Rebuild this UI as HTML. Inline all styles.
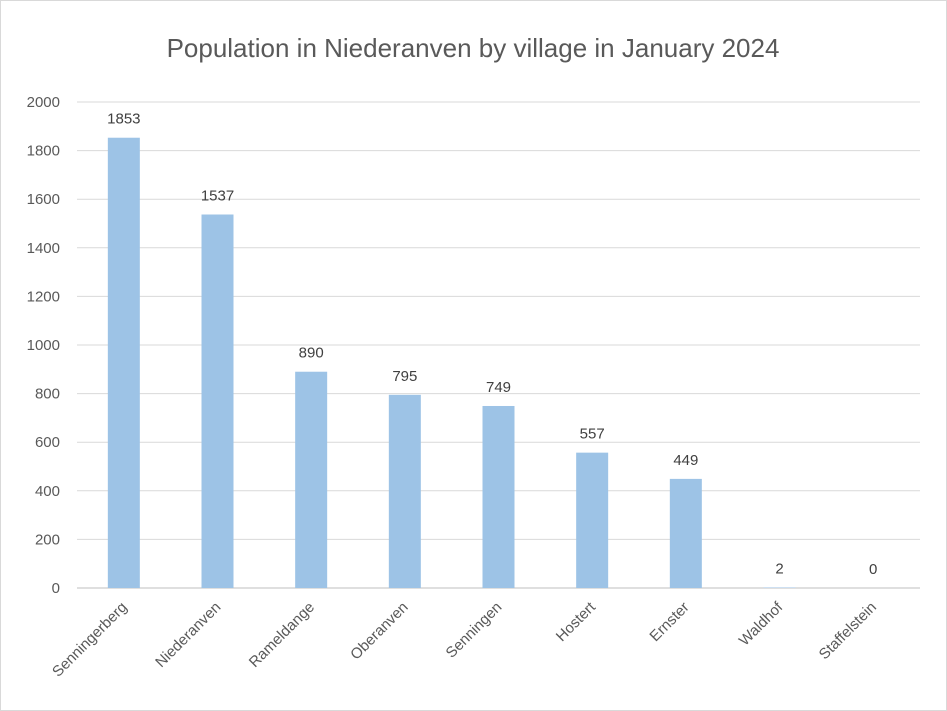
<!DOCTYPE html>
<html><head><meta charset="utf-8"><style>
body{margin:0;background:#fff;}
svg{display:block;font-family:"Liberation Sans",sans-serif;}
</style></head><body>
<svg id="chart" width="947" height="711" viewBox="0 0 947 711">
<rect x="0.5" y="0.5" width="946" height="710" fill="#fff" stroke="#d9d9d9"/>
<text x="473" y="57" text-anchor="middle" font-size="26" fill="#595959">Population in Niederanven by village in January 2024</text>
<g id="grid"></g><g id="bars"></g><g id="labels"></g>
</svg>
<script>
const categories=["Senningerberg","Niederanven","Rameldange","Oberanven","Senningen","Hostert","Ernster","Waldhof","Staffelstein"];
const values=[1853,1537,890,795,749,557,449,2,0];
const yTicks=[0,200,400,600,800,1000,1200,1400,1600,1800,2000];
const ns="http://www.w3.org/2000/svg";
const x0=77,x1=920,yBase=588,yTop=102,yMax=2000;
const band=(x1-x0)/categories.length,barW=32;
function y(v){return yBase-(v/yMax)*(yBase-yTop);}
function xc(i){return x0+band*(i+0.5);}
const grid=document.getElementById('grid'),bars=document.getElementById('bars'),labels=document.getElementById('labels');
function mk(tag,attrs,parent,text){const e=document.createElementNS(ns,tag);for(const k in attrs)e.setAttribute(k,attrs[k]);if(text!==undefined)e.textContent=text;parent.appendChild(e);return e;}
yTicks.forEach(t=>{
 const l=mk('line',{x1:x0,x2:x1,y1:y(t),y2:y(t),stroke:t===0?'#bfbfbf':'#d9d9d9','stroke-width':1},grid);
 
 
 const tx=mk('text',{x:60,y:y(t)+5,'text-anchor':'end','font-size':15,fill:'#595959'},grid,String(t));
 
 
});
categories.forEach((c,i)=>{
 const v=values[i];
 const r=mk('rect',{x:xc(i)-barW/2,y:y(v),width:barW,height:yBase-y(v),fill:'#9dc3e6'},bars);
 
 
 const vl=mk('text',{x:xc(i),y:y(v)-14,'text-anchor':'middle','font-size':15,fill:'#404040'},labels,String(v));
 
 
 const cl=mk('text',{x:0,y:0,'text-anchor':'end','font-size':15,fill:'#595959',transform:`translate(${xc(i)+4},${yBase+20}) rotate(-45)`},labels,c);
 
 
});
</script>
</body></html>
